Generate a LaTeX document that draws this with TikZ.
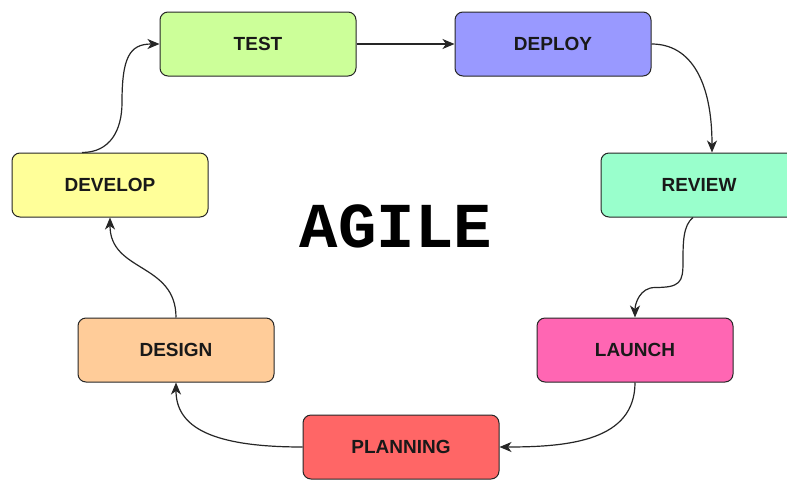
\documentclass[tikz,border=0pt]{standalone}
\usepackage{fontspec}
\setmainfont{Liberation Sans}
\newfontfamily\titlefont{Liberation Mono}
\usetikzlibrary{arrows.meta}
\definecolor{cTest}{HTML}{CCFF99}
\definecolor{cDeploy}{HTML}{9999FF}
\definecolor{cReview}{HTML}{99FFCC}
\definecolor{cLaunch}{HTML}{FF66B3}
\definecolor{cPlanning}{HTML}{FF6666}
\definecolor{cDesign}{HTML}{FFCC99}
\definecolor{cDevelop}{HTML}{FFFF99}
\tikzset{
  phase/.style={draw=black!85, line width=1pt, rounded corners=8pt,
    minimum width=196pt, minimum height=64pt, inner sep=0pt,
    font=\fontsize{19}{21}\selectfont\bfseries, text=black!90},
  flow/.style={draw=black!85, line width=1.2pt,
    -{Stealth[length=12pt,width=10pt,inset=3.5pt]}}
}
\begin{document}
\begin{tikzpicture}[x=1pt,y=-1pt]
\useasboundingbox (0,0) rectangle (787,480);
\fill[white] (0,0) rectangle (787,480);

\node[phase, fill=cTest]     (test)     at (258,44)  {TEST};
\node[phase, fill=cDeploy]   (deploy)   at (553,44)  {DEPLOY};
\node[phase, fill=cReview]   (review)   at (699,185) {REVIEW};
\node[phase, fill=cLaunch]   (launch)   at (635,350) {LAUNCH};
\node[phase, fill=cPlanning] (planning) at (401,447) {PLANNING};
\node[phase, fill=cDesign]   (design)   at (176,350) {DESIGN};
\node[phase, fill=cDevelop]  (develop)  at (110,185) {DEVELOP};

\node[font=\titlefont\fontsize{64}{64}\selectfont\bfseries] (agile) at (396,226) {AGILE};

% the cycle of connectors
\draw[flow] (test.east) -- (deploy.west);
\draw[flow] (deploy.east) .. controls +(40,0) and +(0,-70) .. ([xshift=13pt]review.north);
\draw[flow] ([xshift=-6pt]review.south)
  .. controls +(-10,8) and +(0,-20) .. ++(-10,45)
  .. controls +(0,20) and +(25,0) .. ++(-28,25)
  .. controls +(-15,0) and +(0,-14) .. (launch.north);
\draw[flow] (launch.south) .. controls +(0,58) and +(70,0) .. (planning.east);
\draw[flow] (planning.west) .. controls +(-90,0) and +(0,45) .. (design.south);
\draw[flow] (design.north) .. controls +(0,-55) and +(0,55) .. (develop.south);
\draw[flow] ([xshift=-28pt]develop.north)
  .. controls +(28,0) and +(0,28) .. ++(40,-50)
  .. controls +(0,-45) and +(-30,0) .. (test.west);
\end{tikzpicture}
\end{document}
